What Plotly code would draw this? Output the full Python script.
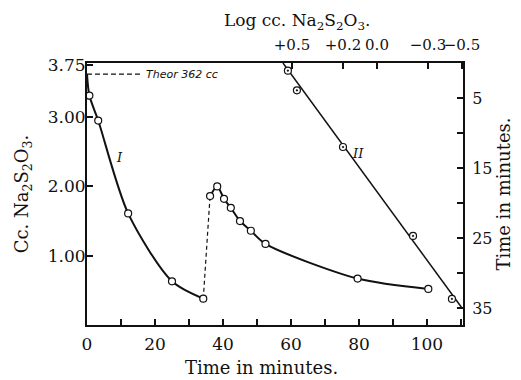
import plotly.graph_objects as go

# ---- Data ----
# Curve I, first titration (time in minutes, cc Na2S2O3)
c1_t = [0.0, 0.7, 3.3, 12.1, 25.0, 34.2]
c1_cc = [3.62, 3.31, 2.95, 1.61, 0.63, 0.38]
c1_marker_t = [0.7, 3.3, 12.1, 25.0, 34.2]
c1_marker_cc = [3.31, 2.95, 1.61, 0.63, 0.38]
# jump (dashed)
jump_t = [34.2, 36.2]
jump_cc = [0.38, 1.86]
# Curve I, second part
c2_t = [36.2, 38.3, 40.3, 42.3, 45.0, 48.2, 52.5, 79.6, 100.4]
c2_cc = [1.86, 2.00, 1.82, 1.69, 1.50, 1.36, 1.17, 0.67, 0.52]
# Theoretical value
theor_cc = 3.62
theor_t = [0, 16]

# Curve II: log cc vs time (top and right axes)
ii_log = [0.524, 0.471, 0.20, -0.212, -0.441]
ii_t = [1.1, 3.9, 12.0, 24.7, 33.7]
ii_line_log = [0.553, -0.50]
ii_line_t = [0.0, 35.0]

# Tick labels
x_ticks = [0, 20, 40, 60, 80, 100]
x_ticktext = ["0", "20", "40", "60", "80", "100"]
y_ticks = [1.0, 2.0, 3.0, 3.75]
y_ticktext = ["1.00", "2.00", "3.00", "3.75"]
top_ticks = [0.5, 0.2, 0.0, -0.3, -0.5]
top_ticktext = ["+0.5", "+0.2", "0.0", "\u22120.3", "\u22120.5"]
right_ticks = [5, 15, 25, 35]
right_ticktext = ["5", "15", "25", "35"]

FONT = "DejaVu Serif"
BLACK = "#111111"

fig = go.Figure()

fig.add_trace(go.Scatter(x=theor_t, y=[theor_cc, theor_cc], mode="lines",
                         line=dict(color=BLACK, width=1.2, dash="5px,3px"),
                         hoverinfo="skip", showlegend=False))
fig.add_trace(go.Scatter(x=c1_t, y=c1_cc, mode="lines",
                         line=dict(color=BLACK, width=2, shape="spline", smoothing=0.8),
                         showlegend=False))
fig.add_trace(go.Scatter(x=jump_t, y=jump_cc, mode="lines",
                         line=dict(color=BLACK, width=1.2, dash="4px,3px"),
                         showlegend=False))
fig.add_trace(go.Scatter(x=c2_t, y=c2_cc, mode="lines",
                         line=dict(color=BLACK, width=2, shape="spline", smoothing=0.8),
                         showlegend=False))
fig.add_trace(go.Scatter(x=c1_marker_t + c2_t, y=c1_marker_cc + c2_cc, mode="markers",
                         marker=dict(symbol="circle", size=7, color="white",
                                     line=dict(color=BLACK, width=1.2)),
                         showlegend=False))

fig.add_trace(go.Scatter(x=ii_line_log, y=ii_line_t, mode="lines", xaxis="x2", yaxis="y2",
                         line=dict(color=BLACK, width=1.5), showlegend=False))
fig.add_trace(go.Scatter(x=ii_log, y=ii_t, mode="markers", xaxis="x2", yaxis="y2",
                         marker=dict(symbol="circle-dot", size=7, color="white",
                                     line=dict(color=BLACK, width=1.2)),
                         showlegend=False))

axis_common = dict(showgrid=False, zeroline=False, showline=True, linecolor=BLACK,
                   linewidth=2, ticks="inside", ticklen=6, tickwidth=1.5, tickcolor=BLACK,
                   automargin=False, tickangle=0)
minor_common = dict(ticks="inside", ticklen=6, tickwidth=1.5, tickcolor=BLACK, showgrid=False)

def tf(size):
    return dict(family=FONT, size=size, color=BLACK)

# The page body adds an 8 px offset; figure is sized so the plot area lands at x 87-463, y 63-325.
fig.update_layout(
    width=513, height=372,
    margin=dict(l=79, r=58, t=55, b=55),
    paper_bgcolor="white", plot_bgcolor="white",
    font=dict(family=FONT, color=BLACK),
    xaxis=dict(range=[0, 110.6], tickvals=x_ticks, ticktext=x_ticktext,
               minor=dict(tick0=0, dtick=10, **minor_common),
               ticklabelstandoff=3, tickfont=tf(17),
               **axis_common),
    yaxis=dict(range=[0, 3.78], tickvals=y_ticks, ticktext=y_ticktext, tickfont=tf(17),
               ticklabelstandoff=-4,
               title=dict(text="Cc. Na<sub>2</sub>S<sub>2</sub>O<sub>3</sub>.",
                          font=tf(18), standoff=14),
               **axis_common),
    xaxis2=dict(range=[1.706, -0.506], overlaying="x", side="top", anchor="y2",
                tickvals=top_ticks, ticktext=top_ticktext, ticklabelstandoff=5,
                tickfont=tf(15),
                **axis_common),
    yaxis2=dict(range=[37.43, 0], overlaying="y", side="right", anchor="x2",
                tickvals=right_ticks, ticktext=right_ticktext, ticklabelstandoff=4,
                minor=dict(tick0=0, dtick=5, **minor_common),
                tickfont=tf(16),
                title=dict(text="Time in minutes.", font=tf(18), standoff=2),
                **axis_common),
    annotations=[
        dict(text="Time in minutes.", xref="paper", yref="paper",
             x=0.465, y=-0.164, yanchor="middle", showarrow=False, font=tf(18)),
        dict(text="Log cc. Na<sub>2</sub>S<sub>2</sub>O<sub>3</sub>.", xref="paper", yref="paper",
             x=0.758, y=1.16, yanchor="middle", showarrow=False, font=tf(17)),
        dict(text="<i>Theor 362 cc</i>", xref="x", yref="y", x=16.8, y=theor_cc, xanchor="left",
             showarrow=False, font=dict(family="DejaVu Sans", size=11, color=BLACK)),
        dict(text="<i>I</i>", xref="x", yref="y", x=9.7, y=2.42, showarrow=False,
             font=tf(13)),
        dict(text="<i>II</i>", xref="x", yref="y", x=79.7, y=2.47, showarrow=False,
             font=tf(13)),
    ],
)

fig.write_html("out.html")
